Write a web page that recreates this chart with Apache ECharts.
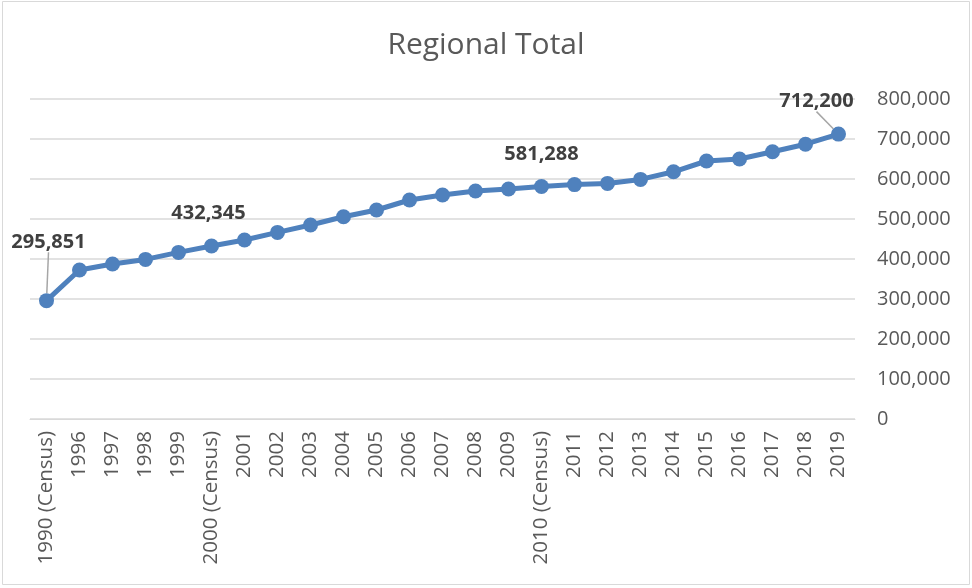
<!DOCTYPE html>
<html lang="en">
<head>
    <meta charset="utf-8">
    <title>Regional Total</title>
    <script src="https://cdn.jsdelivr.net/npm/echarts@6/dist/echarts.min.js"></script>
    <style>
        html, body { margin: 0; padding: 0; background: #fff; }
        #chart { width: 972px; height: 588px; }
    </style>
</head>
<body>
    <div id="chart"></div>
    <script>
        var years = ['1990 (Census)', '1996', '1997', '1998', '1999', '2000 (Census)',
            '2001', '2002', '2003', '2004', '2005', '2006', '2007', '2008', '2009',
            '2010 (Census)', '2011', '2012', '2013', '2014', '2015', '2016', '2017', '2018', '2019'];
        var population = [295851, 372500, 387500, 399000, 416500, 432345,
            447500, 466500, 485000, 505500, 522500, 547500, 560000, 570000, 575000,
            581288, 586000, 589000, 599000, 618000, 645000, 650000, 668000, 687000, 712200];
        // points that carry a value label, and which of them get a leader line
        var labelled = [0, 5, 15, 24];
        var withLine = [0, 24];

        var font = 'Open Sans';
        var blue = '#4f81bd';

        var data = population.map(function (v, i) {
            return {
                value: v,
                label: { show: labelled.indexOf(i) >= 0 },
                labelLine: { show: withLine.indexOf(i) >= 0 }
            };
        });

        var option = {
            animation: false,
            title: {
                text: 'Regional Total',
                left: 'center',
                top: 25,
                textStyle: { fontFamily: font, fontSize: 30, fontWeight: 'normal', color: '#595959' }
            },
            graphic: [{
                type: 'rect',
                shape: { x: 2.5, y: 1.5, width: 967, height: 583 },
                style: { fill: null, stroke: '#d9d9d9', lineWidth: 1 },
                silent: true
            }],
            grid: { left: 30, right: 117, top: 99, bottom: 169 },
            xAxis: {
                type: 'category',
                data: years,
                boundaryGap: true,
                axisLine: { lineStyle: { color: '#d9d9d9' } },
                axisTick: { show: false },
                axisLabel: {
                    rotate: 90,
                    interval: 0,
                    margin: 12,
                    fontFamily: font,
                    fontSize: 20.5,
                    color: '#595959'
                }
            },
            yAxis: {
                type: 'value',
                position: 'right',
                min: 0,
                max: 800000,
                interval: 100000,
                axisLine: { show: false },
                axisTick: { show: false },
                splitLine: { lineStyle: { color: '#d9d9d9', width: 1.5 } },
                axisLabel: {
                    margin: 22,
                    fontFamily: font,
                    fontSize: 20,
                    color: '#595959',
                    formatter: function (v) { return v.toLocaleString('en-US'); }
                }
            },
            series: [{
                type: 'line',
                data: data,
                symbol: 'circle',
                symbolSize: 15,
                itemStyle: { color: blue },
                lineStyle: { color: blue, width: 5 },
                label: {
                    position: 'top',
                    fontFamily: font,
                    fontSize: 20,
                    fontWeight: 'bold',
                    color: '#404040',
                    formatter: function (p) { return p.value.toLocaleString('en-US'); }
                },
                labelLine: { lineStyle: { color: '#a6a6a6', width: 1.5 } },
                labelLayout: function (p) {
                    if (p.dataIndex === 0) return { dx: 2, dy: -36 };
                    if (p.dataIndex === 5) return { dx: -3, dy: -10 };
                    if (p.dataIndex === 15) return { dx: 0, dy: -10 };
                    if (p.dataIndex === 24) return { dx: -22, dy: -10 };
                    return {};
                }
            }]
        };

        var chart = echarts.init(document.getElementById('chart'));
        chart.setOption(option);
    </script>
</body>
</html>
